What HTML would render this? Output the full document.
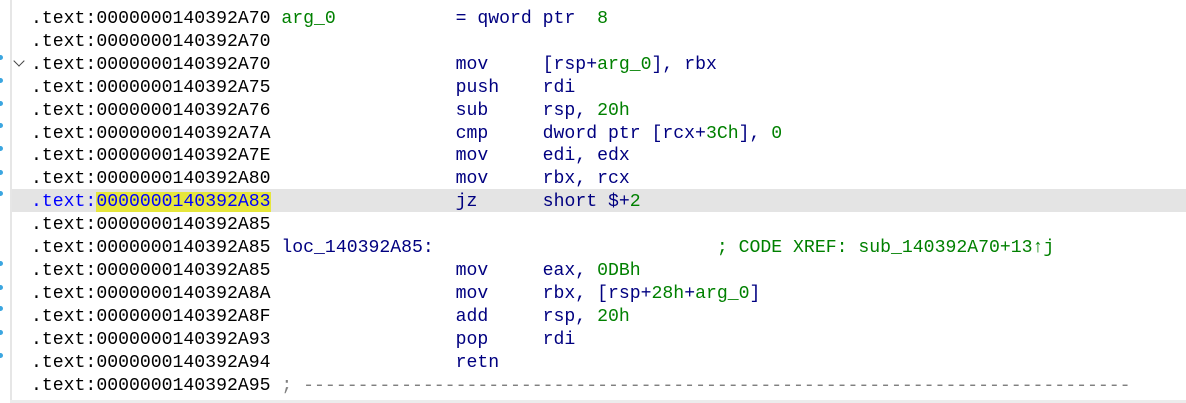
<!DOCTYPE html>
<html><head><meta charset="utf-8"><style>
html,body{margin:0;padding:0;background:#fff;width:1186px;height:403px;overflow:hidden;position:relative}
.vl{position:absolute;left:10px;top:0;width:2px;height:403px;background:#e6e6e6}
.bb{position:absolute;left:10px;top:400px;width:1176px;height:3px;background:#ececec}
.hl{position:absolute;left:12px;top:189px;width:1174px;height:23px;background:#e4e4e4}
.dot{position:absolute;left:-2px;width:5px;height:5px;border-radius:50%;background:#3ba6e0}
pre{position:absolute;left:31px;top:8px;margin:0;font-family:"Liberation Mono",monospace;font-size:18.15px;line-height:22.9px;color:#000}
.m{color:#000080}.g{color:#008000}.b{color:#0000ff}.y{background:#e6e63c}.gr{color:#808080}
.chev{position:absolute;left:15px;top:57px;width:7px;height:7px;border-right:1.5px solid #444;border-bottom:1.5px solid #444;transform:rotate(45deg)}
</style></head><body>
<div class="vl"></div><div class="hl"></div><div class="bb"></div>
<div class="dot" style="top:55px"></div><div class="dot" style="top:78px"></div><div class="dot" style="top:101px"></div><div class="dot" style="top:123px"></div><div class="dot" style="top:146px"></div><div class="dot" style="top:170px"></div><div class="dot" style="top:191px"></div><div class="dot" style="top:261px"></div><div class="dot" style="top:285px"></div><div class="dot" style="top:306px"></div><div class="dot" style="top:330px"></div><div class="dot" style="top:353px"></div>
<div class="chev"></div>
<pre>.text:0000000140392A70 <span class="g">arg_0</span>           <span class="m">= qword ptr  </span><span class="g">8</span>
.text:0000000140392A70
.text:0000000140392A70                 <span class="m">mov     [rsp+</span><span class="g">arg_0</span><span class="m">], rbx</span>
.text:0000000140392A75                 <span class="m">push    rdi</span>
.text:0000000140392A76                 <span class="m">sub     rsp, </span><span class="g">20h</span>
.text:0000000140392A7A                 <span class="m">cmp     dword ptr [rcx+</span><span class="g">3Ch</span><span class="m">], </span><span class="g">0</span>
.text:0000000140392A7E                 <span class="m">mov     edi, edx</span>
.text:0000000140392A80                 <span class="m">mov     rbx, rcx</span>
<span class="b">.text:</span><span class="b y">0000000140392A83</span>                 <span class="m">jz      short $+</span><span class="g">2</span>
.text:0000000140392A85
.text:0000000140392A85 <span class="m">loc_140392A85:</span>                          <span class="g">; CODE XREF: sub_140392A70+13↑j</span>
.text:0000000140392A85                 <span class="m">mov     eax, </span><span class="g">0DBh</span>
.text:0000000140392A8A                 <span class="m">mov     rbx, [rsp+</span><span class="g">28h</span><span class="m">+</span><span class="g">arg_0</span><span class="m">]</span>
.text:0000000140392A8F                 <span class="m">add     rsp, </span><span class="g">20h</span>
.text:0000000140392A93                 <span class="m">pop     rdi</span>
.text:0000000140392A94                 <span class="m">retn</span>
.text:0000000140392A95 <span class="gr">; ----------------------------------------------------------------------------</span></pre>
</body></html>
